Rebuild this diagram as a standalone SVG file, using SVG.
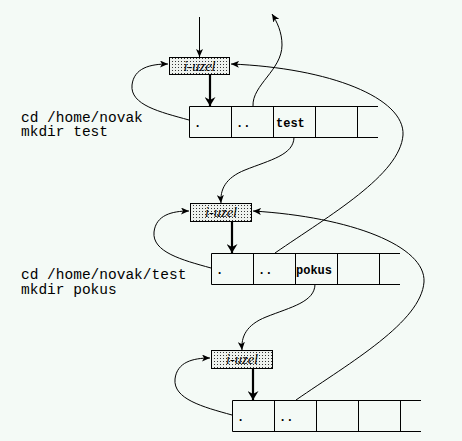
<svg xmlns="http://www.w3.org/2000/svg" width="462" height="441" viewBox="0 0 462 441">
<style>
.bg{fill:#f4faf6}
.box{fill:url(#dots);stroke:#000;stroke-width:1}
.cell{fill:none;stroke:#000;stroke-width:1}
.lbl{font-family:"Liberation Serif",serif;font-style:italic;font-size:14.5px;fill:#000;text-anchor:middle}
.cmd{font-family:"Liberation Mono",monospace;font-size:14.5px;fill:#000}
.name{font-family:"Liberation Mono",monospace;font-weight:bold;font-size:12px;fill:#000}
.thin{fill:none;stroke:#000;stroke-width:1;marker-end:url(#ah)}
.thick{fill:none;stroke:#000;stroke-width:2.2;marker-end:url(#ahb)}
</style>
<defs>
<pattern id="dots" width="3" height="3" patternUnits="userSpaceOnUse">
<rect width="3" height="3" fill="#eef2ee"/>
<rect x="1" y="1" width="1" height="1" fill="#333"/>
</pattern>
<marker id="ah" viewBox="0 0 8 7" refX="8" refY="3.5" markerWidth="8" markerHeight="7" markerUnits="userSpaceOnUse" orient="auto">
<path d="M0,0 L8,3.5 L0,7 L2,3.5 z" fill="#000"/>
</marker>
<marker id="ahb" viewBox="0 0 9 11" refX="9" refY="5.5" markerWidth="9" markerHeight="11" markerUnits="userSpaceOnUse" orient="auto">
<path d="M0,0 L9,5.5 L0,11 L3,5.5 z" fill="#000"/>
</marker>
</defs>
<rect class="bg" x="0" y="0" width="462" height="441"/>

<g id="cmd1">
<text class="cmd" x="21" y="121.5">cd /home/novak</text>
<text class="cmd" x="21" y="136">mkdir test</text>
</g>
<g id="cmd2">
<text class="cmd" x="21" y="279">cd /home/novak/test</text>
<text class="cmd" x="21" y="294">mkdir pokus</text>
</g>

<g id="inode1">
<rect class="box" x="169.5" y="57.5" width="60" height="17"/>
<text class="lbl" x="199.5" y="70.5">i-uzel</text>
</g>
<g id="dir1">
<path class="cell" d="M378,106.5 H189.5 V137.5 H378 M231.5,106.5 V137.5 M273.5,106.5 V137.5 M315.5,106.5 V137.5 M357.5,106.5 V137.5"/>
<text class="name" x="194" y="127">.</text>
<text class="name" x="236" y="127">..</text>
<text class="name" x="276" y="127">test</text>
</g>

<g id="inode2">
<rect class="box" x="190.5" y="203.5" width="61" height="18"/>
<text class="lbl" x="221" y="217">i-uzel</text>
</g>
<g id="dir2">
<path class="cell" d="M400,253.5 H211.5 V284.5 H400 M253.5,253.5 V284.5 M295.5,253.5 V284.5 M337.5,253.5 V284.5 M379.5,253.5 V284.5"/>
<text class="name" x="216" y="274">.</text>
<text class="name" x="258" y="274">..</text>
<text class="name" x="296" y="274">pokus</text>
</g>

<g id="inode3">
<rect class="box" x="211.5" y="350.5" width="61" height="18"/>
<text class="lbl" x="242" y="364">i-uzel</text>
</g>
<g id="dir3">
<path class="cell" d="M421,400.5 H232.5 V431.5 H421 M274.5,400.5 V431.5 M316.5,400.5 V431.5 M358.5,400.5 V431.5 M400.5,400.5 V431.5"/>
<text class="name" x="237" y="421">.</text>
<text class="name" x="279" y="421">..</text>
</g>

<g id="connectors">
<path class="thin" d="M199.5,17 V57"/>
<path class="thin" d="M253,106 C252,85 282,70 282,45 C282,32 277,22 272,14"/>
<path class="thin" d="M189,120 C160,112 130,105 132,85 C134,68 150,64 168,64"/>
<path class="thin" d="M275,253 C330,215 400,175 403,135 C405,98 330,68 231,64"/>
<path class="thin" d="M294,137 C294,155 270,160 245,170 C225,178 220,190 221,203"/>
<path class="thin" d="M211,268 C182,260 152,252 154,232 C156,215 172,211 189,211"/>
<path class="thin" d="M296,400 C351,362 421,322 424,282 C426,246 351,217 253,211"/>
<path class="thin" d="M315,284 C315,302 291,307 266,317 C246,325 241,337 242,350"/>
<path class="thin" d="M232,415 C203,407 173,399 175,379 C177,362 193,358 210,358"/>
<path class="thick" d="M210,75 V106"/>
<path class="thick" d="M232,222 V253"/>
<path class="thick" d="M253,369 V400"/>
</g>
</svg>
